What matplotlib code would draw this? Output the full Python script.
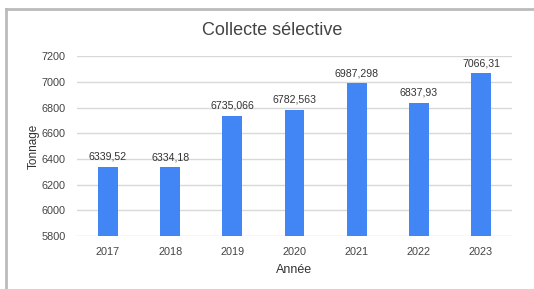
import matplotlib.pyplot as plt
from matplotlib.lines import Line2D

years = ['2017', '2018', '2019', '2020', '2021', '2022', '2023']
tonnage = [6339.52, 6334.18, 6735.066, 6782.563, 6987.298, 6837.93, 7066.31]
value_labels = ['6339,52', '6334,18', '6735,066', '6782,563', '6987,298', '6837,93', '7066,31']
y_ticks = [5800, 6000, 6200, 6400, 6600, 6800, 7000, 7200]

plt.rcParams['font.family'] = ['Liberation Sans', 'DejaVu Sans']

fig = plt.figure(figsize=(5.34, 2.89), dpi=100)
ax = fig.add_axes([0.144, 0.183, 0.815, 0.623])

x = range(len(years))
ax.bar(x, tonnage, width=0.32, color='#4285f4', zorder=3)
for i, v in enumerate(tonnage):
    ax.text(i, v + 40, value_labels[i], ha='center', va='bottom', fontsize=7.6, color='#333333')

ax.set_ylim(5800, 7200)
ax.set_xlim(-0.5, len(years) - 0.5)
ax.set_yticks(y_ticks)
ax.set_yticklabels([str(t) for t in y_ticks])
ax.set_xticks(list(x))
ax.set_xticklabels(years)
ax.tick_params(axis='both', length=0, labelsize=7.8, colors='#444444')
ax.tick_params(axis='x', pad=8)
ax.tick_params(axis='y', pad=8)
ax.grid(axis='y', color='#d9d9d9', linewidth=1, zorder=0)
for s in ax.spines.values():
    s.set_visible(False)

ax.set_ylabel('Tonnage', fontsize=8.5, color='#333333', labelpad=1)
ax.set_xlabel('Année', fontsize=9, color='#333333', labelpad=5)
fig.text(0.51, 0.895, 'Collecte sélective', ha='center', va='center', fontsize=13, color='#444444')

# outer frame
fig.add_artist(Line2D([0.011, 0.011], [0.0, 0.97], transform=fig.transFigure, color='#bbbbbb', linewidth=2))
fig.add_artist(Line2D([0.011, 1.0], [0.97, 0.97], transform=fig.transFigure, color='#bbbbbb', linewidth=2))

fig.savefig('out.png', dpi=100)
